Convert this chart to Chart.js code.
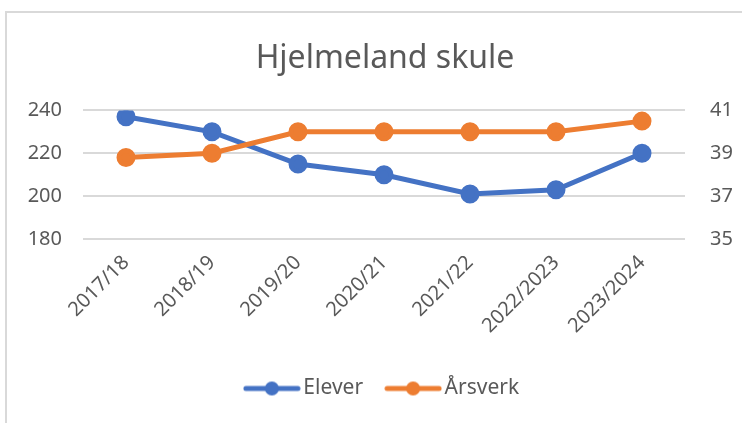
<!DOCTYPE html>
<html>
<head>
<meta charset="utf-8">
<script src="https://cdn.jsdelivr.net/npm/chart.js@4"></script>
<style>
  html, body { margin: 0; padding: 0; background: #fff; overflow: hidden; }
  #frame { position: absolute; left: 5px; top: 11px; width: 800px; height: 500px; border: 2px solid #d9d9d9; }
  #wrap { position: absolute; left: 0; top: 0; width: 742px; height: 423px; }
</style>
</head>
<body>
<div id="frame"></div>
<div id="wrap"><canvas id="chart" width="742" height="423"></canvas></div>
<script>
const categories = ["2017/18", "2018/19", "2019/20", "2020/21", "2021/22", "2022/2023", "2023/2024"];
const elever = [237, 230, 215, 210, 201, 203, 220];
const arsverk = [38.8, 39, 40, 40, 40, 40, 40.5];
const leftTicks = [180, 200, 220, 240];
const rightTicks = [35, 37, 39, 41];

const textColor = "#595959";
const gridColor = "#d9d9d9";
const blue = "#4472C4";
const orange = "#ED7D31";
const font = "'Noto Sans', sans-serif";

// legend marker: line with a dot in the middle
function marker(color) {
  const c = document.createElement("canvas");
  c.width = 58;
  c.height = 16;
  const ctx = c.getContext("2d");
  ctx.strokeStyle = color;
  ctx.lineWidth = 5;
  ctx.lineCap = "round";
  ctx.beginPath();
  ctx.moveTo(3, 8);
  ctx.lineTo(55, 8);
  ctx.stroke();
  ctx.fillStyle = color;
  ctx.beginPath();
  ctx.arc(29, 8, 7, 0, Math.PI * 2);
  ctx.fill();
  return c;
}
const markers = [marker(blue), marker(orange)];

new Chart(document.getElementById("chart"), {
  type: "line",
  data: {
    labels: categories,
    datasets: [
      {
        label: "Elever",
        data: elever,
        yAxisID: "y",
        borderColor: blue,
        backgroundColor: blue,
        borderWidth: 5,
        pointRadius: 7,
        pointHoverRadius: 7,
        order: 2
      },
      {
        label: "Årsverk",
        data: arsverk,
        yAxisID: "y1",
        borderColor: orange,
        backgroundColor: orange,
        borderWidth: 5,
        pointRadius: 7,
        pointHoverRadius: 7,
        order: 1
      }
    ]
  },
  options: {
    responsive: false,
    animation: false,
    layout: { padding: { left: 28, right: 0, top: 0, bottom: 14 } },
    plugins: {
      title: {
        display: true,
        text: "Hjelmeland skule",
        color: textColor,
        font: { family: font, size: 32, weight: "normal" },
        padding: { top: 40, bottom: 32 }
      },
      legend: {
        position: "bottom",
        labels: {
          usePointStyle: true,
          pointStyleWidth: 42,
          padding: 29,
          color: textColor,
          font: { family: font, size: 21 },
          sort: (a, b) => a.datasetIndex - b.datasetIndex,
          generateLabels: chart => {
            const items = Chart.defaults.plugins.legend.labels.generateLabels(chart);
            items.forEach(it => { it.pointStyle = markers[it.datasetIndex]; });
            return items;
          }
        }
      },
      tooltip: { enabled: false }
    },
    scales: {
      x: {
        offset: true,
        grid: { display: false },
        border: { display: false },
        ticks: {
          color: textColor,
          font: { family: font, size: 20 },
          minRotation: 45,
          maxRotation: 45,
          padding: 4
        },
        afterFit: s => { s.height = 110; }
      },
      y: {
        position: "left",
        min: 180,
        max: 240,
        afterBuildTicks: s => { s.ticks = leftTicks.map(v => ({ value: v })); },
        grid: { color: gridColor, lineWidth: 2, drawTicks: false },
        border: { display: false },
        ticks: { color: textColor, font: { family: font, size: 20 }, padding: 21 },
        afterFit: s => { s.width = 55; }
      },
      y1: {
        position: "right",
        min: 35,
        max: 41,
        afterBuildTicks: s => { s.ticks = rightTicks.map(v => ({ value: v })); },
        grid: { drawOnChartArea: false, drawTicks: false },
        border: { display: false },
        ticks: { color: textColor, font: { family: font, size: 20 }, padding: 25 },
        afterFit: s => { s.width = 57; }
      }
    }
  }
});
</script>
</body>
</html>
